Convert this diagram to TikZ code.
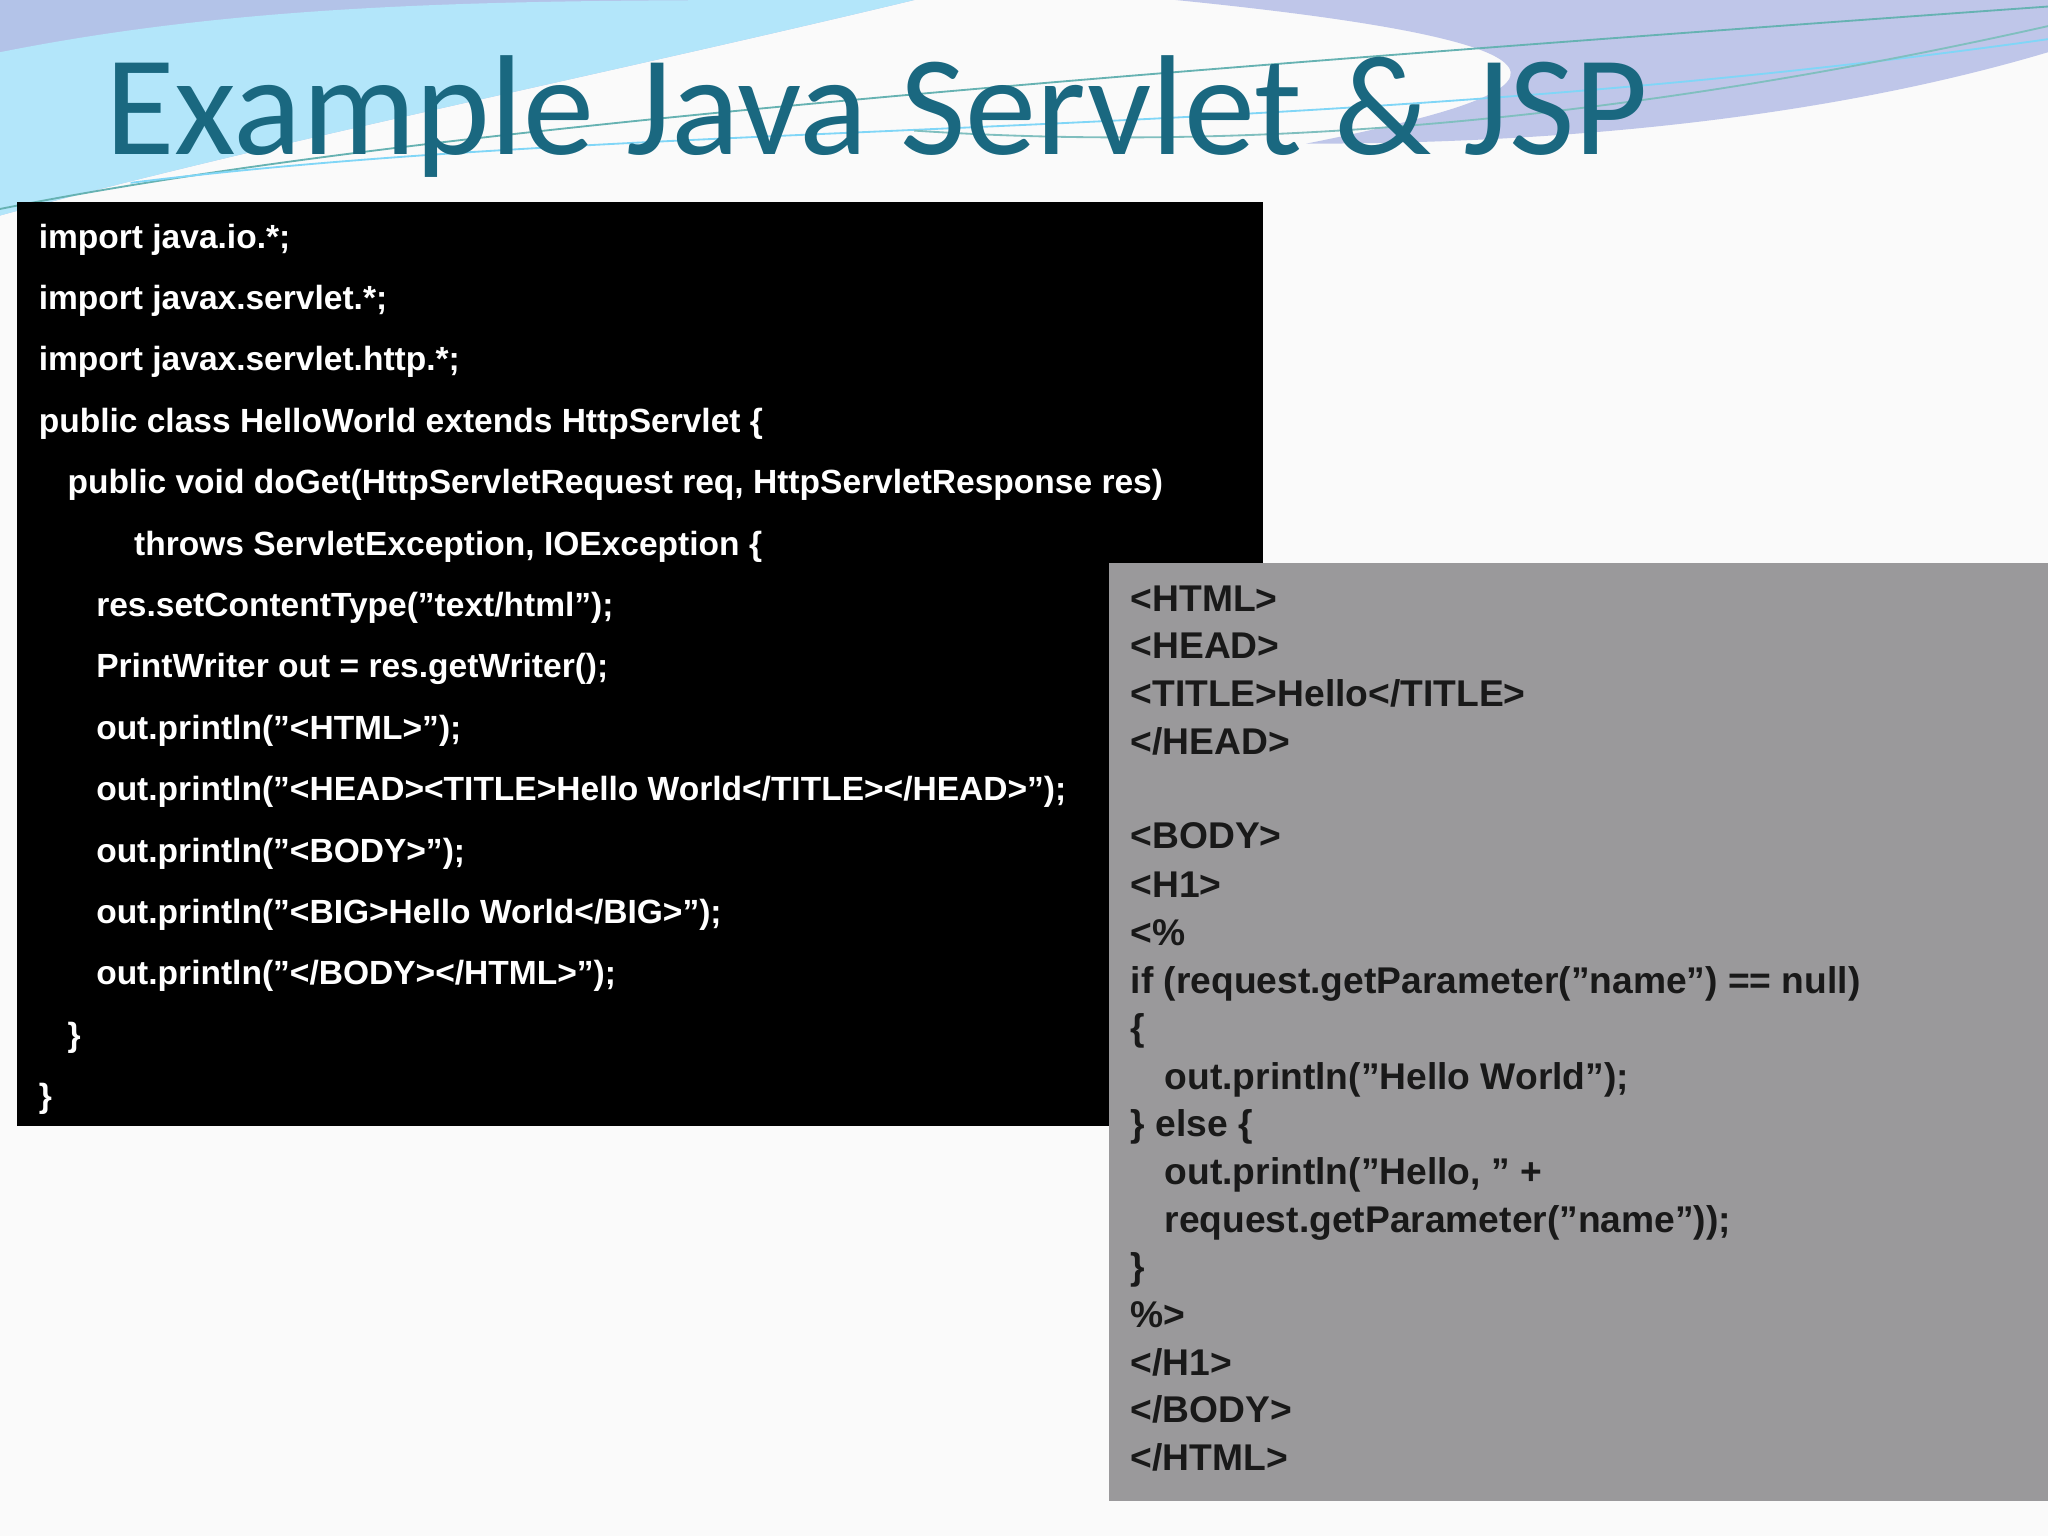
\documentclass[tikz,border=0pt]{standalone}
\usepackage{fontspec}
\setmainfont{Liberation Sans}
\newfontfamily\titlefont{Carlito}
\definecolor{titleblue}{RGB}{26,104,128}
\definecolor{jspgray}{RGB}{154,153,155}
\begin{document}
\begin{tikzpicture}[x=0.01cm,y=-0.01cm,
  code/.style={anchor=base west,inner sep=0,text=white,font=\fontsize{7.3pt}{8pt}\selectfont\bfseries},
  jsp/.style={anchor=base west,inner sep=0,text=black!90,font=\fontsize{8.1pt}{9pt}\selectfont\bfseries}]
\useasboundingbox (0,0) rectangle (1568,1176);
\fill[gray!4] (0,0) rectangle (1568,1176);
% waves
\fill[cyan!45!blue!30] (0,0) -- (700,0) .. controls (450,60) and (200,110) .. (0,165) -- cycle;
\fill[cyan!30!white] (0,40) .. controls (200,0) and (400,0) .. (650,0) -- (700,0) .. controls (450,60) and (200,110) .. (0,165) -- cycle;
\fill[cyan!35!blue!25] (900,0) -- (1568,0) -- (1568,40) .. controls (1400,90) and (1200,110) .. (1000,110) .. controls (1150,80) and (1300,40) .. cycle;
\draw[teal!60,thin] (0,160) .. controls (300,100) and (800,60) .. (1568,5);
\draw[cyan!50,thin] (100,140) .. controls (500,90) and (1000,110) .. (1568,30);
\draw[teal!50,thin] (700,100) .. controls (1000,120) and (1300,80) .. (1568,20);
\node[anchor=base west,inner sep=0,text=titleblue,font=\titlefont\fontsize{31pt}{34pt}\selectfont] (title) at (80,118) {Example Java Servlet \& JSP};
% black box
\fill[black] (13,155) rectangle (967,862);
\node[code] (c1) at (29,190) {import java.io.*;};
\node[code] (c2) at (29,237) {import javax.servlet.*;};
\node[code] (c3) at (29,284) {import javax.servlet.http.*;};
\node[code] (c4) at (29,331) {public class HelloWorld extends HttpServlet \{};
\node[code] (c5) at (51,378) {public void doGet(HttpServletRequest req, HttpServletResponse res)};
\node[code] (c6) at (102,425) {throws ServletException, IOException \{};
\node[code] (c7) at (73,472) {res.setContentType("text/html");};
\node[code] (c8) at (73,519) {PrintWriter out = res.getWriter();};
\node[code] (c9) at (73,566) {out.println("<HTML>");};
\node[code] (c10) at (73,613) {out.println("<HEAD><TITLE>Hello World</TITLE></HEAD>");};
\node[code] (c11) at (73,660) {out.println("<BODY>");};
\node[code] (c12) at (73,707) {out.println("<BIG>Hello World</BIG>");};
\node[code] (c13) at (73,754) {out.println("</BODY></HTML>");};
\node[code] (c14) at (51,801) {\}};
\node[code] (c15) at (29,848) {\}};
% gray box
\fill[jspgray] (849,431) rectangle (1568,1149);
\node[jsp] (j1) at (865,468) {<HTML>};
\node[jsp] (j2) at (865,504) {<HEAD>};
\node[jsp] (j3) at (865,541) {<TITLE>Hello</TITLE>};
\node[jsp] (j4) at (865,578) {</HEAD>};
\node[jsp] (j5) at (865,650) {<BODY>};
\node[jsp] (j6) at (865,687) {<H1>};
\node[jsp] (j7) at (865,724) {<\%};
\node[jsp] (j8) at (865,761) {if (request.getParameter("name") == null)};
\node[jsp] (j9) at (865,797) {\{};
\node[jsp] (j10) at (891,834) {out.println("Hello World");};
\node[jsp] (j11) at (865,870) {\} else \{};
\node[jsp] (j12) at (891,907) {out.println("Hello, " +};
\node[jsp] (j13) at (891,944) {request.getParameter("name"));};
\node[jsp] (j14) at (865,980) {\}};
\node[jsp] (j15) at (865,1016) {\%>};
\node[jsp] (j16) at (865,1053) {</H1>};
\node[jsp] (j17) at (865,1089) {</BODY>};
\node[jsp] (j18) at (865,1126) {</HTML>};
\end{tikzpicture}
\end{document}
